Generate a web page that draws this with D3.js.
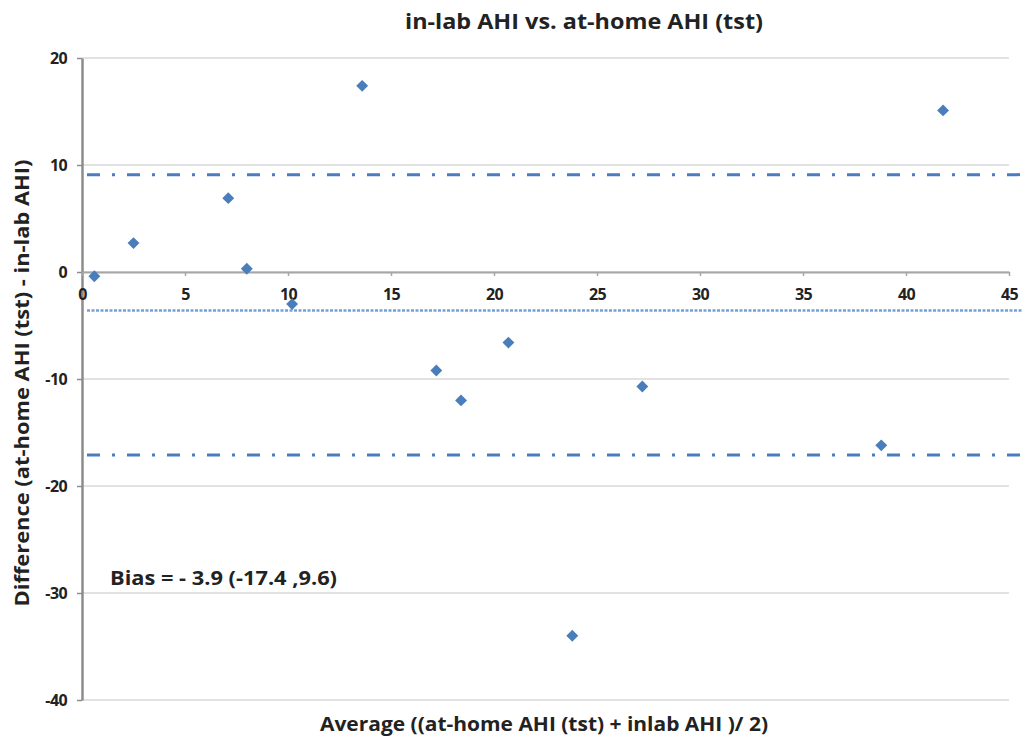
<!DOCTYPE html>
<html><head><meta charset="utf-8">
<script src="https://cdn.jsdelivr.net/npm/d3@7"></script>
<style>body{margin:0;background:#fff}svg{display:block}text{font-family:"Open Sans",Lato,sans-serif}</style>
</head><body>
<svg id="c" width="1023" height="740"></svg>
<script>
const avgValues = [0.6, 2.5, 7.1, 8.0, 10.2, 13.6, 17.2, 18.4, 20.7, 23.8, 27.2, 38.8, 41.8];
const diffValues = [-0.4, 2.7, 6.9, 0.3, -3.0, 17.4, -9.2, -12.0, -6.6, -34.0, -10.7, -16.2, 15.1];
const xTicks = [0, 5, 10, 15, 20, 25, 30, 35, 40, 45];
const yTicks = [20, 10, 0, -10, -20, -30, -40];
const limitLines = [9.1, -17.1];
const biasLine = [-3.6];
const titleText = "in-lab AHI vs. at-home AHI (tst)";
const xTitle = "Average ((at-home AHI (tst) + inlab AHI )/ 2)";
const yTitle = "Difference (at-home AHI (tst) - in-lab AHI)";
const biasText = "Bias = - 3.9 (-17.4 ,9.6)";

const svg = d3.select("#c");
const x = d3.scaleLinear().domain([0, 45]).range([82, 1009]);
const y = d3.scaleLinear().domain([-40, 20]).range([700, 58]);
const fmt = d => String(d);

// gridlines
svg.append("g").selectAll("line").data(yTicks).join("line")
  .attr("x1", x(0)).attr("x2", x(45)).attr("y1", d => y(d)).attr("y2", d => y(d))
  .attr("stroke", "#d9d9d9").attr("stroke-width", 1.5);

// y axis
const yAxis = svg.append("g").attr("transform", `translate(${x(0)},0)`)
  .call(d3.axisLeft(y).tickValues(yTicks).tickFormat(fmt).tickSize(5).tickSizeOuter(0));
yAxis.select(".domain").attr("stroke", "#8c8c8c").attr("stroke-width", 2.5);
yAxis.selectAll(".tick line").attr("stroke", "#8c8c8c").attr("stroke-width", 1.5);
yAxis.selectAll(".tick text").attr("font-size", 16).attr("font-weight", "bold").attr("fill", "#222").attr("x", -15)
  .attr("letter-spacing", -0.6);

// x axis at y=0
const xAxis = svg.append("g").attr("transform", `translate(0,${y(0)})`)
  .call(d3.axisBottom(x).tickValues(xTicks).tickFormat(fmt).tickSize(4).tickSizeOuter(0));
xAxis.select(".domain").attr("stroke", "#a6a6a6").attr("stroke-width", 2);
xAxis.selectAll(".tick line").attr("stroke", "#a6a6a6").attr("stroke-width", 1.5);
xAxis.selectAll(".tick text").attr("font-size", 16).attr("font-weight", "bold").attr("fill", "#222").attr("y", 17)
  .attr("letter-spacing", -0.6);

// limit lines
svg.append("g").selectAll("line").data(limitLines).join("line")
  .attr("x1", 87).attr("x2", 1023).attr("y1", d => y(d)).attr("y2", d => y(d))
  .attr("stroke", "#4a7cc2").attr("stroke-width", 3)
  .attr("stroke-dasharray", "13,12,3,12");
// bias line
svg.append("g").selectAll("line").data(biasLine).join("line")
  .attr("x1", 87).attr("x2", 1023).attr("y1", d => y(d)).attr("y2", d => y(d))
  .attr("stroke", "#74a0d8").attr("stroke-width", 2.5)
  .attr("stroke-dasharray", "3,1.5");

// points
const diamond = d3.symbol().type(d3.symbolDiamond2).size(90);
svg.append("g").selectAll("path").data(avgValues.map((v, i) => [v, diffValues[i]])).join("path")
  .attr("d", diamond)
  .attr("transform", d => `translate(${x(d[0])},${y(d[1])})`)
  .attr("fill", "#4a7ebb");

// texts
svg.append("text").attr("x", 584).attr("y", 29).attr("text-anchor", "middle")
  .attr("font-size", 21).attr("font-weight", "bold").attr("fill", "#222")
  .attr("textLength", 358).attr("lengthAdjust", "spacingAndGlyphs").text(titleText);
svg.append("text").attr("x", 544).attr("y", 731).attr("text-anchor", "middle")
  .attr("font-size", 19).attr("font-weight", "bold").attr("fill", "#222")
  .attr("textLength", 448).attr("lengthAdjust", "spacingAndGlyphs").text(xTitle);
svg.append("text").attr("transform", "translate(29,383) rotate(-90)").attr("text-anchor", "middle")
  .attr("font-size", 19).attr("font-weight", "bold").attr("fill", "#222")
  .attr("textLength", 447).attr("lengthAdjust", "spacingAndGlyphs").text(yTitle);
svg.append("text").attr("x", 110).attr("y", 585)
  .attr("font-size", 19).attr("font-weight", "bold").attr("fill", "#222")
  .attr("textLength", 227).attr("lengthAdjust", "spacingAndGlyphs").text(biasText);
</script>
</body></html>
